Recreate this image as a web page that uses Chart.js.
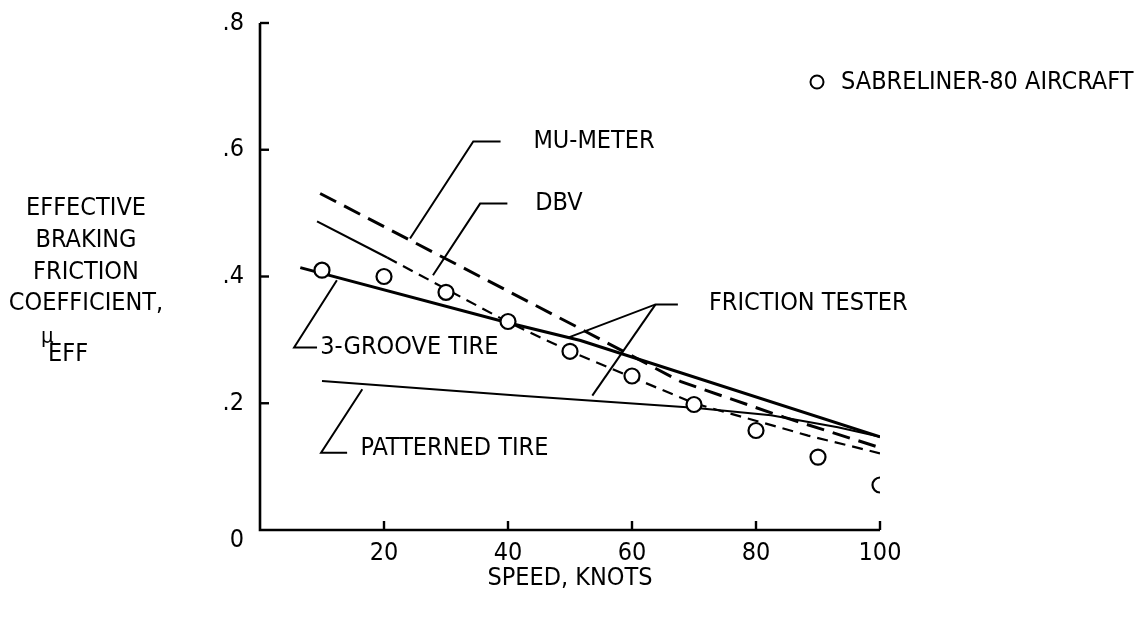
<!DOCTYPE html>
<html><head><meta charset="utf-8">
<script src="https://cdn.jsdelivr.net/npm/chart.js@4.4.1/dist/chart.umd.min.js"></script>
<style>html,body{margin:0;padding:0;background:#fff;} #wrap{width:1142px;height:621px;}</style>
</head><body><div id="wrap"><canvas id="c" width="1142" height="621"></canvas></div>
<script>
// ---- data (speed in knots, effective braking friction coefficient) ----
const aircraftSpeed = [10, 20, 30, 40, 50, 60, 70, 80, 90, 100];
const aircraftMu    = [0.41, 0.40, 0.375, 0.329, 0.282, 0.243, 0.198, 0.157, 0.115, 0.071];

const muMeterSpeed = [9.7, 51.2, 67.9, 84.5, 100];
const muMeterMu    = [0.531, 0.320, 0.234, 0.178, 0.130];

const dbvSpeed = [9.2, 20.5, 40, 50, 60, 70, 88.4, 100];
const dbvMu    = [0.487, 0.430, 0.328, 0.282, 0.241, 0.200, 0.149, 0.121];

const ftGrooveSpeed = [6.5, 40, 51.7, 100];
const ftGrooveMu    = [0.414, 0.327, 0.299, 0.147];

const ftPatternSpeed = [10, 42, 70, 82.4, 93.2, 100];
const ftPatternMu    = [0.235, 0.212, 0.193, 0.181, 0.162, 0.147];

const xTickValues = [20, 40, 60, 80, 100];
const xTickLabels = ['20', '40', '60', '80', '100'];
const yTickValues = [0, 0.2, 0.4, 0.6, 0.8];
const yTickLabels = ['0', '.2', '.4', '.6', '.8'];

const legendLabel = 'SABRELINER-80 AIRCRAFT';
const xTitle = 'SPEED, KNOTS';
const yTitleLines = ['EFFECTIVE', 'BRAKING', 'FRICTION', 'COEFFICIENT,'];

// callouts (text + leader lines), in data coordinates
const callouts = [
  {text: 'MU-METER',        at: [44.1, 0.613], leaders: [[[38.8, 0.613], [34.4, 0.613], [24.2, 0.46]]]},
  {text: 'DBV',             at: [44.4, 0.515], leaders: [[[39.9, 0.515], [35.5, 0.515], [27.9, 0.402]]]},
  {text: 'FRICTION TESTER', at: [72.4, 0.358], leaders: [[[67.4, 0.356], [63.8, 0.356], [49.8, 0.304]], [[63.8, 0.356], [53.6, 0.212]]]},
  {text: '3-GROOVE TIRE',   at: [9.7, 0.288],  leaders: [[[12.4, 0.394], [5.5, 0.288], [9.2, 0.288]]]},
  {text: 'PATTERNED TIRE',  at: [16.2, 0.128], leaders: [[[16.5, 0.222], [9.85, 0.122], [14.05, 0.122]]]}
];

const FONT = "'DejaVu Sans Condensed','DejaVu Sans',sans-serif";
const FS = 25;

const pts = (xs, ys) => xs.map((x, i) => ({x, y: ys[i]}));

const deco = {
  id: 'deco',
  beforeDraw(chart) {
    const ctx = chart.ctx;
    ctx.save();
    ctx.fillStyle = '#fff';
    ctx.fillRect(0, 0, chart.width, chart.height);
    ctx.restore();
  },
  afterDraw(chart) {
    const ctx = chart.ctx, xs = chart.scales.x, ys = chart.scales.y, a = chart.chartArea;
    ctx.save();
    ctx.strokeStyle = '#000';
    ctx.fillStyle = '#000';
    ctx.lineCap = 'butt';
    // axes
    ctx.lineWidth = 2.6;
    ctx.beginPath();
    ctx.moveTo(a.left, ys.getPixelForValue(0.8));
    ctx.lineTo(a.left, ys.getPixelForValue(0));
    ctx.lineTo(xs.getPixelForValue(100), ys.getPixelForValue(0));
    ctx.stroke();
    // inward ticks
    ctx.lineWidth = 2.4;
    yTickValues.forEach(v => { if (v === 0) return; const y = ys.getPixelForValue(v);
      ctx.beginPath(); ctx.moveTo(a.left, y); ctx.lineTo(a.left + 9, y); ctx.stroke(); });
    xTickValues.forEach(v => { const x = xs.getPixelForValue(v);
      ctx.beginPath(); ctx.moveTo(x, a.bottom); ctx.lineTo(x, a.bottom - 9); ctx.stroke(); });
    // callouts
    ctx.lineWidth = 2;
    ctx.font = FS + 'px ' + FONT;
    ctx.textAlign = 'left';
    ctx.textBaseline = 'middle';
    callouts.forEach(c => {
      c.leaders.forEach(l => {
        ctx.beginPath();
        l.forEach((p, i) => { const px = xs.getPixelForValue(p[0]), py = ys.getPixelForValue(p[1]);
          if (i === 0) ctx.moveTo(px, py); else ctx.lineTo(px, py); });
        ctx.stroke();
      });
      ctx.fillText(c.text, xs.getPixelForValue(c.at[0]), ys.getPixelForValue(c.at[1]));
    });
    // origin label (sits a little below the axis, as in the original)
    ctx.textAlign = 'center';
    ctx.fillText(yTickLabels[0], a.left - 23, ys.getPixelForValue(0) + 10);
    // legend
    ctx.textAlign = 'left';
    ctx.lineWidth = 2;
    ctx.beginPath(); ctx.arc(817, 82, 6.5, 0, Math.PI * 2); ctx.stroke();
    ctx.fillText(legendLabel, 841, 82);
    // x title
    ctx.textAlign = 'center';
    ctx.fillText(xTitle, (a.left + a.right) / 2, a.bottom + 48);
    // y title
    const yc = [208, 240, 272, 303];
    yTitleLines.forEach((t, i) => ctx.fillText(t, 86, yc[i]));
    ctx.textAlign = 'left';
    ctx.font = '22px ' + FONT;
    ctx.fillText('\u03bc', 41, 337);
    ctx.font = FS + 'px ' + FONT;
    ctx.fillText('EFF', 48, 354);
    ctx.restore();
  }
};

new Chart(document.getElementById('c'), {
  type: 'scatter',
  data: {
    datasets: [
      {label: 'Sabreliner-80 aircraft', data: pts(aircraftSpeed, aircraftMu), showLine: false,
       pointRadius: 7.5, pointBorderWidth: 2.2, pointBackgroundColor: '#fff', pointBorderColor: '#000', order: 0},
      {label: 'Mu-Meter', data: pts(muMeterSpeed, muMeterMu), showLine: true, pointRadius: 0,
       borderColor: '#000', borderWidth: 3, borderDash: [18, 9], tension: 0, order: 1},
      {label: 'DBV', data: pts(dbvSpeed, dbvMu), showLine: true, pointRadius: 0,
       borderColor: '#000', borderWidth: 2.2, tension: 0, order: 1,
       segment: {borderDash: c => c.p0DataIndex >= 1 ? [11, 7] : undefined}},
      {label: 'Friction tester, 3-groove tire', data: pts(ftGrooveSpeed, ftGrooveMu), showLine: true, pointRadius: 0,
       borderColor: '#000', borderWidth: 3, tension: 0, order: 1},
      {label: 'Friction tester, patterned tire', data: pts(ftPatternSpeed, ftPatternMu), showLine: true, pointRadius: 0,
       borderColor: '#000', borderWidth: 2, tension: 0, order: 1}
    ]
  },
  options: {
    responsive: false,
    devicePixelRatio: 1,
    animation: false,
    layout: {padding: {left: 0, right: 262, top: 15, bottom: 0}},
    plugins: {legend: {display: false}, tooltip: {enabled: false}},
    scales: {
      x: {
        type: 'linear', min: 0, max: 100,
        grid: {display: false}, border: {display: false},
        afterBuildTicks: s => { s.ticks = xTickValues.map(v => ({value: v})); },
        afterFit: s => { s.height = 91; },
        ticks: {color: '#000', padding: 0, font: {family: FONT, size: FS},
          callback: v => xTickLabels[xTickValues.indexOf(v)] ?? ''}
      },
      y: {
        type: 'linear', min: 0, max: 0.8,
        grid: {display: false}, border: {display: false},
        afterBuildTicks: s => { s.ticks = yTickValues.map(v => ({value: v})); },
        afterFit: s => { s.width = 260; },
        ticks: {color: '#000', padding: 8, font: {family: FONT, size: FS},
          callback: v => { const i = yTickValues.findIndex(t => Math.abs(t - v) < 1e-9); return i > 0 ? yTickLabels[i] : ''; }}
      }
    }
  },
  plugins: [deco]
});
</script>
</body></html>
